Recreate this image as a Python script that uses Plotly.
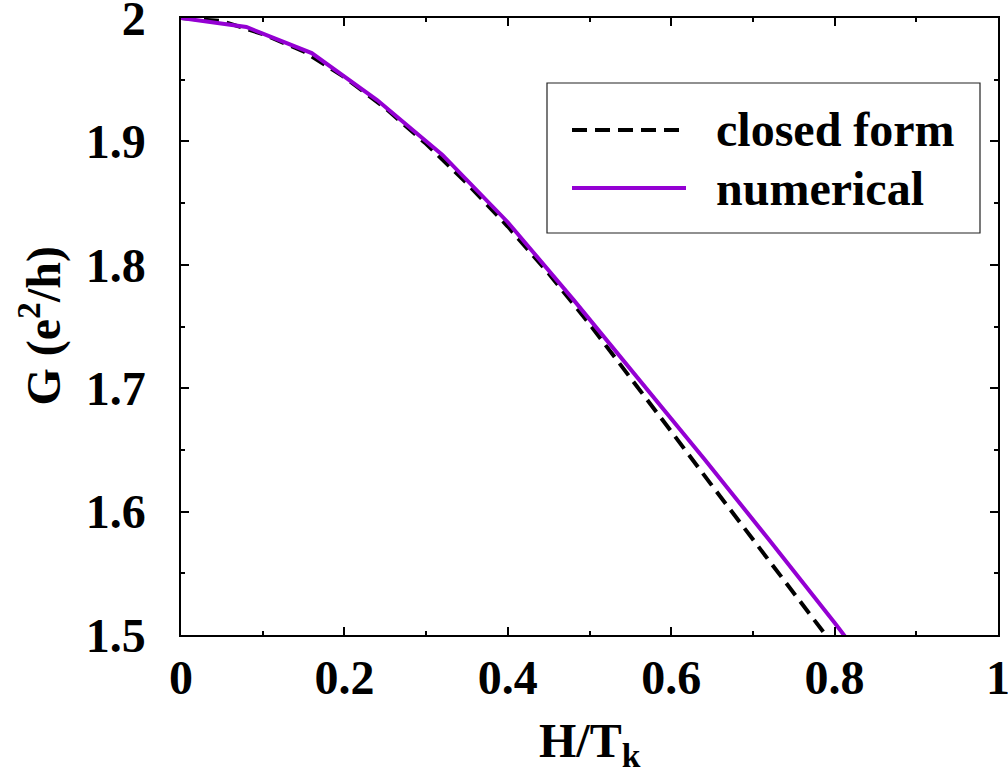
import plotly.graph_objects as go

# ---- data ----
h_closed = [0.0, 0.05, 0.10, 0.15, 0.20, 0.25, 0.30, 0.35, 0.40, 0.45,
            0.50, 0.55, 0.60, 0.65, 0.70, 0.75, 0.80, 0.85]
g_closed = [2.0, 1.9975, 1.987, 1.973, 1.952, 1.927, 1.898, 1.866, 1.831, 1.793,
            1.752, 1.709, 1.665, 1.621, 1.577, 1.533, 1.490, 1.447]

h_numerical = [0.0, 0.08, 0.16, 0.24, 0.32, 0.40, 0.48, 0.56, 0.64, 0.72, 0.80, 0.88]
g_numerical = [2.0, 1.9927, 1.9716, 1.9335, 1.889, 1.8345, 1.772, 1.708, 1.643, 1.577, 1.510, 1.440]

x_ticks = [0, 0.2, 0.4, 0.6, 0.8, 1]
x_ticklabels = ["0", "0.2", "0.4", "0.6", "0.8", "1"]
y_ticks = [1.5, 1.6, 1.7, 1.8, 1.9, 2]
y_ticklabels = ["1.5", "1.6", "1.7", "1.8", "1.9", "2"]

legend_labels = ["closed form", "numerical"]
x_title = "H/T<sub>k</sub>"
y_title = "G (e<sup>2</sup>/h)"

# ---- layout geometry (pixels) ----
W, H = 1008, 774
L, R, T, B = 181, 998, 18, 635


def px(x):
    return (x - L) / (R - L)


def py(y):
    return (B - y) / (B - T)


FONT = "Liberation Serif"
PURPLE = "#9400D3"
DASH = "15px,8px"
LW = 4

fig = go.Figure()
fig.add_trace(go.Scatter(x=h_closed, y=g_closed, mode="lines", name=legend_labels[0],
                         line=dict(color="black", width=LW, dash=DASH),
                         showlegend=False))
fig.add_trace(go.Scatter(x=h_numerical, y=g_numerical, mode="lines", name=legend_labels[1],
                         line=dict(color=PURPLE, width=LW),
                         showlegend=False))

tickfont = dict(family=FONT, size=48, color="black", weight="bold")
axis_common = dict(ticks="inside", ticklen=8, tickwidth=1.5, tickcolor="black",
                   showline=True, linecolor="black", linewidth=1.5, mirror="ticks",
                   showgrid=False, zeroline=False, tickfont=tickfont,
                   ticklabeloverflow="allow", automargin=False)

fig.update_layout(
    width=W, height=H,
    margin=dict(l=L, r=W - R, t=T, b=H - B, pad=0, autoexpand=False),
    paper_bgcolor="white", plot_bgcolor="white",
    xaxis=dict(range=[0, 1], tickmode="array", tickvals=x_ticks, ticktext=x_ticklabels,
               minor=dict(tickmode="linear", tick0=0, dtick=0.1, ticks="inside", ticklen=4,
                          tickwidth=1.5, tickcolor="black", showgrid=False),
               ticklabelstandoff=0, **axis_common),
    yaxis=dict(range=[1.5, 2], tickmode="array", tickvals=y_ticks, ticktext=y_ticklabels,
               minor=dict(tickmode="linear", tick0=1.5, dtick=0.05, ticks="inside", ticklen=4,
                          tickwidth=1.5, tickcolor="black", showgrid=False),
               ticklabelstandoff=24, **axis_common),
    showlegend=False,
)

# axis titles
fig.add_annotation(text=x_title, x=0.5, y=py(712), xref="paper", yref="paper",
                   xanchor="center", yanchor="top", showarrow=False,
                   font=dict(family=FONT, size=48, color="black", weight="bold"))
fig.add_annotation(text=y_title, x=px(40), y=0.5, xref="paper", yref="paper",
                   xanchor="center", yanchor="middle", showarrow=False, textangle=-90,
                   font=dict(family=FONT, size=48, color="black", weight="bold"))

# legend box (drawn by hand to match the long line samples)
fig.add_shape(type="rect", xref="paper", yref="paper",
              x0=px(547), x1=px(980), y0=py(233), y1=py(83),
              line=dict(color="#222222", width=1.2), fillcolor="white", layer="above")
fig.add_shape(type="line", xref="paper", yref="paper",
              x0=px(572), x1=px(686), y0=py(130), y1=py(130),
              line=dict(color="black", width=LW, dash=DASH), layer="above")
fig.add_shape(type="line", xref="paper", yref="paper",
              x0=px(572), x1=px(686), y0=py(188), y1=py(188),
              line=dict(color=PURPLE, width=LW), layer="above")
for lab, yy in zip(legend_labels, [130, 188]):
    fig.add_annotation(text=lab, x=px(714), y=py(yy), xref="paper", yref="paper",
                       xanchor="left", yanchor="middle", showarrow=False,
                       font=dict(family=FONT, size=48, color="black", weight="bold"))

fig.write_html("out.html")
